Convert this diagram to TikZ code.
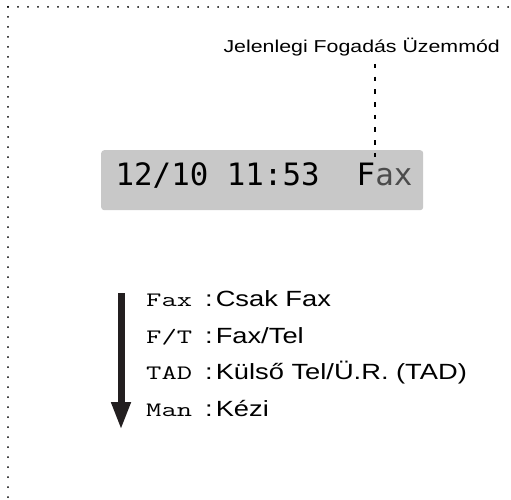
\documentclass[tikz,border=0pt]{standalone}
\usepackage{fontspec}
\setmainfont{Liberation Sans}
\newfontfamily\widesans[FakeStretch=1.24]{Liberation Sans}
\newfontfamily\lcdfont{DejaVu Sans Mono}
\newfontfamily\keymonofont[FakeStretch=1.45]{lmmono12-regular.otf}
\usetikzlibrary{arrows.meta}
\definecolor{lcdgray}{RGB}{200,200,200}
\definecolor{inkblack}{RGB}{35,31,32}
\begin{document}
\begin{tikzpicture}[x=1pt,y=-1pt,
  dotline/.style={line width=2pt, line cap=round, dash pattern=on 0pt off 10pt, black},
  hdr/.style={font=\widesans\fontsize{17.2}{20}\selectfont, inner sep=0pt},
  lcdbox/.style={fill=lcdgray, rounded corners=3pt, inner sep=0pt, minimum width=322pt, minimum height=60pt},
  lcdtext/.style={font=\lcdfont\fontsize{30.8}{34}\selectfont, inner sep=0pt},
  leader/.style={line width=2pt, dash pattern=on 4.5pt off 8.2pt, black},
  modekey/.style={font=\keymonofont\fontsize{20.5}{24}\selectfont, anchor=base west, inner sep=0pt},
  modedesc/.style={font=\widesans\fontsize{22}{26}\selectfont, anchor=base west, inner sep=0pt},
  scrollarrow/.style={line width=7pt, inkblack, -{Triangle[length=28pt,width=18pt]}}
]
\useasboundingbox (0,0) rectangle (511,500);
% dotted frame (top and left only)
\draw[dotline] (8,7) -- (511,7);
\draw[dotline] (8,7) -- (8,500);
% header label
\node[hdr, anchor=base east] (hdr) at (500,53) {Jelenlegi Fogadás Üzemmód};
% LCD
\node[lcdbox, anchor=north west] (lcd) at (101,150) {};
\node[lcdtext, anchor=base] (lcdtxt) at (264,185) {12/10~11:53~~F\textcolor{black!70}{ax}};
% leader line
\coordinate (dtop) at (375,64);
\coordinate (dbot) at (375,157);
\draw[leader] (dtop) -- (dbot);
% scroll arrow
\coordinate (astart) at (121,293);
\coordinate (aend) at (121,430);
\draw[scrollarrow] (astart) -- (aend);
% mode list
\node[modekey] (k1) at (146,306.5) {Fax};
\node[modedesc] (d1) at (205,306.5) {:\hspace{3pt}Csak Fax};
\node[modekey] (k2) at (146,343) {F/T};
\node[modedesc] (d2) at (205,343) {:\hspace{3pt}Fax/Tel};
\node[modekey] (k3) at (146,379.5) {TAD};
\node[modedesc] (d3) at (205,379.5) {:\hspace{3pt}Külső Tel/Ü.R. (TAD)};
\node[modekey] (k4) at (146,416.5) {Man};
\node[modedesc] (d4) at (205,416.5) {:\hspace{3pt}Kézi};
\end{tikzpicture}
\end{document}
